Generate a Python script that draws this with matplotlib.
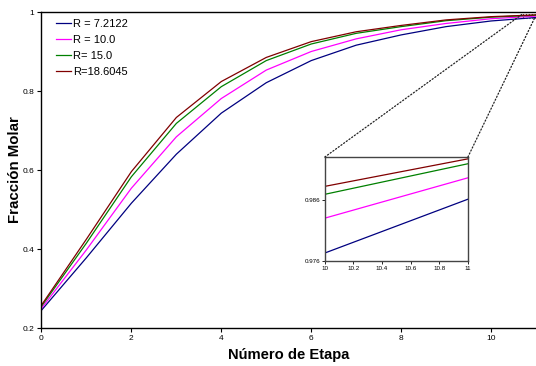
import matplotlib
matplotlib.use("Agg")
import matplotlib.pyplot as plt
from matplotlib.patches import ConnectionPatch, Rectangle

plt.rcParams['font.family'] = ['Liberation Sans', 'DejaVu Sans']

etapas = [0, 1, 2, 3, 4, 5, 6, 7, 8, 9, 10, 11]
labels = ["R = 7.2122", "R = 10.0", "R= 15.0", "R=18.6045"]
colores = ["#000080", "#FF00FF", "#008000", "#800000"]

x_r72 = [0.245, 0.378, 0.516, 0.640, 0.744, 0.821, 0.877, 0.916, 0.942, 0.963, 0.9773, 0.9861]
x_r10 = [0.250, 0.398, 0.554, 0.684, 0.781, 0.853, 0.900, 0.932, 0.955, 0.971, 0.9830, 0.9896]
x_r15 = [0.255, 0.415, 0.583, 0.718, 0.811, 0.877, 0.919, 0.946, 0.963, 0.978, 0.9869, 0.9919]
x_r186 = [0.258, 0.425, 0.596, 0.733, 0.824, 0.885, 0.925, 0.950, 0.966, 0.980, 0.9882, 0.9927]
series = [x_r72, x_r10, x_r15, x_r186]

fig = plt.figure(figsize=(5.36, 3.66), dpi=100)
ax = fig.add_axes([0.0774, 0.1038, 0.9226, 0.8634])
for ys, lab, c in zip(series, labels, colores):
    ax.plot(etapas, ys, color=c, lw=0.9, label=lab)
ax.set_xlim(0, 11)
ax.set_ylim(0.2, 1.0)
ax.set_xticks([0, 2, 4, 6, 8, 10])
ax.set_yticks([0.2, 0.4, 0.6, 0.8, 1.0])
ax.set_yticklabels(["0.2", "0.4", "0.6", "0.8", "1"])
ax.tick_params(labelsize=6, length=3, width=0.8, pad=2)
for s in ax.spines.values():
    s.set_linewidth(1.0)
ax.spines['right'].set_visible(False)
ax.set_xlabel("Número de Etapa", fontsize=10.6, fontweight='bold', labelpad=4)
ax.set_ylabel("Fracción Molar", fontsize=10.8, fontweight='bold', labelpad=0.5)
ax.legend(loc='upper left', frameon=False, fontsize=8, handlelength=1.4,
          handletextpad=0.2, labelspacing=0.55, borderaxespad=0.2,
          bbox_to_anchor=(0.015, 1.0))

# zoom rectangle and connectors
ax.add_patch(Rectangle((10.7, 0.985), 0.3, 0.010, fill=False, ls=':',
                       lw=0.8, ec='#444444', clip_on=False))

axin = fig.add_axes([0.606, 0.287, 0.267, 0.284])
for ys, c in zip(series, colores):
    axin.plot(etapas, ys, color=c, lw=0.9)
axin.set_xlim(10, 11)
axin.set_ylim(0.976, 0.993)
axin.set_xticks([10, 10.2, 10.4, 10.6, 10.8, 11])
axin.set_xticklabels(["10", "10.2", "10.4", "10.6", "10.8", "11"])
axin.set_yticks([0.976, 0.986])
axin.tick_params(labelsize=4.5, length=2, width=0.6, pad=1.5)
for s in axin.spines.values():
    s.set_linewidth(1.0)
    s.set_color('#444444')

for xa, xb, yb in [(0, 10.7, 0.995), (1, 10.97, 0.985)]:
    con = ConnectionPatch(xyA=(xa, 1), coordsA=axin.transAxes,
                          xyB=(xb, yb), coordsB=ax.transData,
                          ls=':', lw=0.9, color='#222222')
    fig.add_artist(con)

fig.savefig("out.png", dpi=100)
